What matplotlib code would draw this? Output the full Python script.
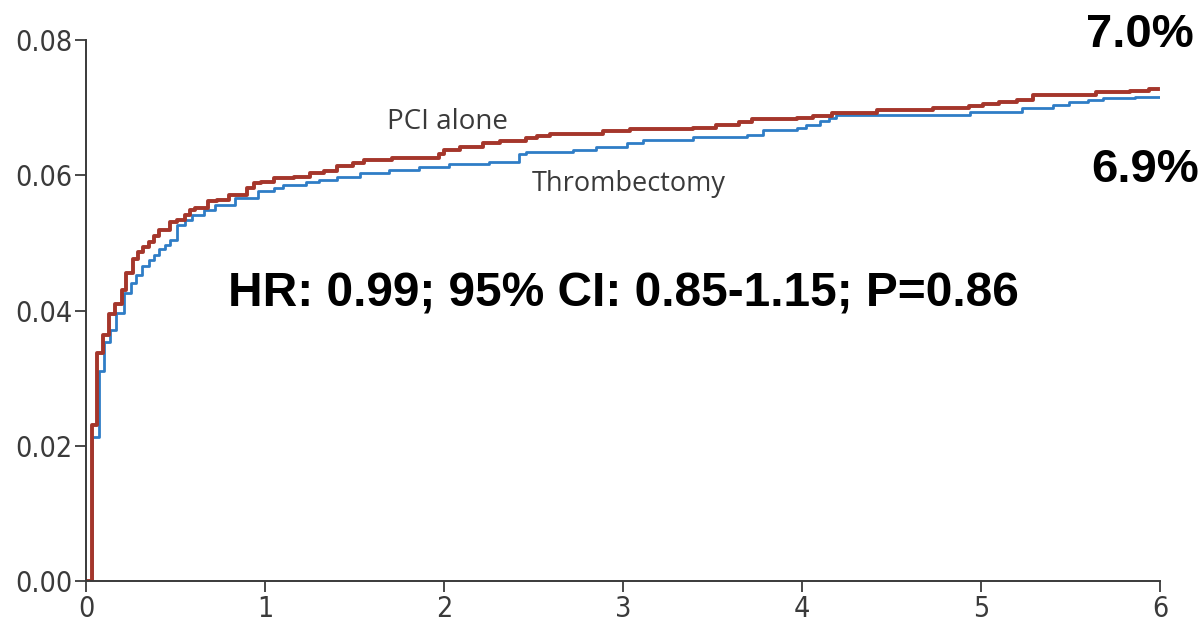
import matplotlib.pyplot as plt

# Cumulative incidence, step curves (time in years)
pci_time = [0.0, 0.032, 0.063, 0.094, 0.127, 0.16, 0.2, 0.225, 0.26, 0.29,
            0.32, 0.35, 0.38, 0.41, 0.47, 0.51, 0.55, 0.58, 0.61, 0.68,
            0.73, 0.8, 0.9, 0.94, 0.98, 1.05, 1.16, 1.25, 1.33, 1.4,
            1.49, 1.55, 1.71, 1.97, 2.0, 2.09, 2.22, 2.31, 2.46, 2.52,
            2.59, 2.89, 3.04, 3.39, 3.52, 3.65, 3.72, 3.97, 4.06, 4.17,
            4.42, 4.73, 4.93, 5.01, 5.1, 5.2, 5.29, 5.53, 5.64, 5.83,
            5.94, 5.99]
pci_risk = [0.0, 0.0231, 0.0337, 0.0364, 0.0395, 0.0410, 0.0430, 0.0455, 0.0476, 0.0487,
            0.0494, 0.0502, 0.0510, 0.0519, 0.0531, 0.0534, 0.0541, 0.0549, 0.0551, 0.0562,
            0.0564, 0.0571, 0.0581, 0.0588, 0.0590, 0.0596, 0.0598, 0.0603, 0.0607, 0.0613,
            0.0618, 0.0622, 0.0625, 0.0632, 0.0638, 0.0642, 0.0647, 0.0651, 0.0655, 0.0658,
            0.0661, 0.0666, 0.0669, 0.0670, 0.0674, 0.0679, 0.0683, 0.0685, 0.0688, 0.0692,
            0.0697, 0.0699, 0.0703, 0.0706, 0.0709, 0.0712, 0.0718, 0.0719, 0.0723, 0.0725,
            0.0728, 0.0728]

thromb_time = [0.0, 0.035, 0.07, 0.1, 0.134, 0.17, 0.21, 0.25, 0.28, 0.31,
               0.35, 0.38, 0.41, 0.44, 0.47, 0.51, 0.55, 0.59, 0.66, 0.72,
               0.83, 0.96, 1.05, 1.1, 1.23, 1.3, 1.4, 1.53, 1.69, 1.86,
               2.03, 2.25, 2.42, 2.46, 2.72, 2.85, 3.02, 3.11, 3.39, 3.69,
               3.78, 3.97, 4.02, 4.1, 4.15, 4.19, 4.64, 4.94, 5.23, 5.4,
               5.49, 5.6, 5.68, 5.86, 6.0]
thromb_risk = [0.0, 0.0213, 0.0311, 0.0354, 0.0371, 0.0396, 0.0426, 0.0441, 0.0453, 0.0466,
               0.0475, 0.0482, 0.0491, 0.0497, 0.0504, 0.0526, 0.0534, 0.0541, 0.0549, 0.0556,
               0.0566, 0.0576, 0.0581, 0.0586, 0.0590, 0.0593, 0.0598, 0.0603, 0.0608, 0.0612,
               0.0616, 0.0620, 0.0632, 0.0635, 0.0638, 0.0642, 0.0647, 0.0652, 0.0657, 0.0660,
               0.0667, 0.0670, 0.0675, 0.0680, 0.0684, 0.0689, 0.0689, 0.0694, 0.0699, 0.0704,
               0.0709, 0.0711, 0.0714, 0.0716, 0.0716]

x_ticks = [0, 1, 2, 3, 4, 5, 6]
y_ticks = [0.00, 0.02, 0.04, 0.06, 0.08]

RED = "#a5362b"
BLUE = "#2f7dc6"
GRAY = "#3a3a3a"

fig = plt.figure(figsize=(12.02, 6.28), dpi=100)
ax = fig.add_axes([0.0716, 0.0748, 0.8935, 0.8615])

ax.plot(thromb_time, thromb_risk, drawstyle="steps-post", color=BLUE, lw=2.0)
ax.plot(pci_time, pci_risk, drawstyle="steps-post", color=RED, lw=2.8)

ax.set_xlim(0, 6)
ax.set_ylim(0, 0.08)
ax.set_xticks(x_ticks)
ax.set_yticks(y_ticks)
ax.set_xticklabels([str(v) for v in x_ticks])
ax.set_yticklabels([f"{v:.2f}" for v in y_ticks])

for lab in ax.get_xticklabels() + ax.get_yticklabels():
    lab.set_family("DejaVu Sans")
    lab.set_stretch("condensed")
    lab.set_fontsize(20.5)
    lab.set_color(GRAY)

ax.tick_params(direction="out", length=8, width=1.3, colors=GRAY, pad=2)
for side in ["top", "right"]:
    ax.spines[side].set_visible(False)
for side in ["left", "bottom"]:
    ax.spines[side].set_color(GRAY)
    ax.spines[side].set_linewidth(1.4)

# curve labels
ax.text(2.02, 0.0679, "PCI alone", fontsize=20, color=GRAY, family="Open Sans",
        ha="center", va="center")
ax.text(3.03, 0.0587, "Thrombectomy", fontsize=19.5, color=GRAY, family="Open Sans",
        ha="center", va="center")

ax.text(3.0, 0.0424, "HR: 0.99; 95% CI: 0.85-1.15; P=0.86", fontsize=34.5,
        fontweight="bold", family="Liberation Sans", ha="center", va="center")

fig.text(1140 / 1202, 1 - 35 / 628, "7.0%", fontsize=34, fontweight="bold",
         family="Liberation Sans", ha="center", va="center")
fig.text(1145 / 1202, 1 - 170 / 628, "6.9%", fontsize=34, fontweight="bold",
         family="Liberation Sans", ha="center", va="center")

fig.savefig("out.png", dpi=100)
